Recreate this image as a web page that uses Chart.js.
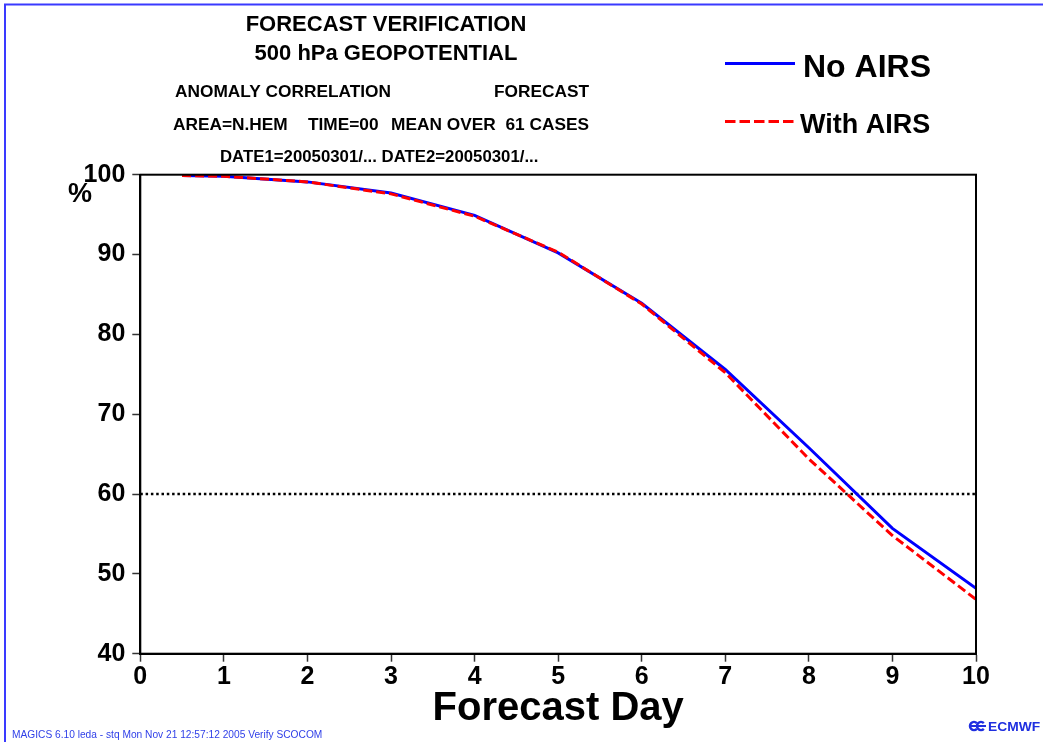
<!DOCTYPE html>
<html>
<head>
<meta charset="utf-8">
<title>Forecast verification – 500 hPa geopotential</title>
<script src="https://cdn.jsdelivr.net/npm/chart.js@4/dist/chart.umd.min.js"></script>
<style>
  html, body { margin: 0; padding: 0; background: #fff; }
  #wrap { width: 1043px; height: 742px; position: relative; }
</style>
</head>
<body>
<div id="wrap"><canvas id="c" width="1043" height="742"></canvas></div>
<script>
// Forecast day (lead time) for each verification point
const forecastDays = [0.5, 1, 2, 3, 4, 5, 6, 7, 8, 9, 10];
// Anomaly correlation (%) of the 500 hPa geopotential, N. hemisphere, mean over 61 cases
const noAirs   = [99.9, 99.8, 99.1, 97.7, 94.9, 90.2, 83.9, 75.6, 65.8, 55.7, 48.2];
const withAirs = [99.9, 99.8, 99.1, 97.6, 94.8, 90.3, 83.8, 75.2, 64.4, 54.8, 46.8];
// Usefulness threshold (%)
const threshold = 60;
const thresholdSpan = [0, 10];
// Axis ticks
const xTicks = [0, 1, 2, 3, 4, 5, 6, 7, 8, 9, 10];
const yTicks = [40, 50, 60, 70, 80, 90, 100];

const FONT = '"Liberation Sans", Arial, sans-serif';
const pts = (xs, ys) => xs.map((x, i) => ({ x, y: ys[i] }));

// Frame, headings, legend and footer drawn around the plot
const decorations = {
  id: 'decorations',
  beforeDraw(chart) {
    const ctx = chart.ctx;
    ctx.save();
    ctx.fillStyle = '#fff';
    ctx.fillRect(0, 0, chart.width, chart.height);
    ctx.strokeStyle = '#3a3aff';
    ctx.lineWidth = 2;
    ctx.beginPath();
    ctx.moveTo(5, chart.height);
    ctx.lineTo(5, 4.5);
    ctx.lineTo(chart.width, 4.5);
    ctx.stroke();
    ctx.restore();
  },
  afterDraw(chart) {
    const ctx = chart.ctx;
    const a = chart.chartArea;
    ctx.save();
    // closing box round the plot
    ctx.strokeStyle = '#000';
    ctx.lineWidth = 2;
    ctx.strokeRect(a.left, a.top, a.right - a.left, a.bottom - a.top);

    ctx.fillStyle = '#000';
    ctx.textBaseline = 'alphabetic';
    ctx.textAlign = 'center';
    ctx.font = 'bold 22px ' + FONT;
    ctx.fillText('FORECAST VERIFICATION', 386, 31);
    ctx.fillText('500 hPa GEOPOTENTIAL', 386, 60);

    ctx.textAlign = 'left';
    ctx.font = 'bold 17.3px ' + FONT;
    ctx.fillText('ANOMALY CORRELATION', 175, 96.5);
    ctx.fillText('FORECAST', 494, 96.5);
    ctx.fillText('AREA=N.HEM', 173, 129.5);
    ctx.fillText('TIME=00', 308, 129.5);
    ctx.fillText('MEAN OVER', 391, 129.5);
    ctx.textAlign = 'right';
    ctx.fillText('61 CASES', 589, 129.5);
    ctx.textAlign = 'left';
    ctx.font = 'bold 16.8px ' + FONT;
    ctx.fillText('DATE1=20050301/... DATE2=20050301/...', 220, 161.5);

    // legend
    ctx.lineWidth = 3;
    ctx.strokeStyle = '#0000ff';
    ctx.beginPath();
    ctx.moveTo(725, 63.5);
    ctx.lineTo(795, 63.5);
    ctx.stroke();
    ctx.strokeStyle = '#ff0000';
    ctx.setLineDash([10.5, 4]);
    ctx.beginPath();
    ctx.moveTo(725, 121.5);
    ctx.lineTo(795, 121.5);
    ctx.stroke();
    ctx.setLineDash([]);
    ctx.font = 'bold 32px ' + FONT;
    ctx.fillText('No AIRS', 803, 76.5);
    ctx.font = 'bold 27px ' + FONT;
    ctx.fillText('With AIRS', 800, 132.5);

    // axis unit
    ctx.font = 'bold 27px ' + FONT;
    ctx.fillText('%', 68, 202);

    // axis title
    ctx.textAlign = 'center';
    ctx.font = 'bold 40px ' + FONT;
    ctx.fillText('Forecast Day', (a.left + a.right) / 2, 720);

    // footer
    ctx.textAlign = 'left';
    ctx.fillStyle = '#2f3fe8';
    ctx.font = '10.2px ' + FONT;
    ctx.fillText('MAGICS 6.10 leda - stq Mon Nov 21 12:57:12 2005 Verify SCOCOM', 12, 738);

    // ECMWF mark
    ctx.fillStyle = '#1f2fe0';
    ctx.strokeStyle = '#1f2fe0';
    ctx.lineWidth = 2.5;
    ctx.beginPath();
    ctx.arc(974, 726, 4, Math.PI * 0.25, Math.PI * 1.75);
    ctx.stroke();
    ctx.beginPath();
    ctx.arc(981, 726, 4, Math.PI * 0.25, Math.PI * 1.75);
    ctx.stroke();
    ctx.fillRect(969, 725, 17, 2);
    ctx.font = 'bold 12px ' + FONT;
    ctx.save();
    ctx.translate(988, 730.5);
    ctx.scale(1.15, 1);
    ctx.fillText('ECMWF', 0, 0);
    ctx.restore();
    ctx.restore();
  }
};

new Chart(document.getElementById('c'), {
  type: 'line',
  data: {
    datasets: [
      {
        label: 'With AIRS',
        data: pts(forecastDays, withAirs),
        borderColor: '#ff0000',
        borderWidth: 3,
        borderDash: [9, 4],
        pointRadius: 0,
        tension: 0,
        order: 0
      },
      {
        label: 'No AIRS',
        data: pts(forecastDays, noAirs),
        borderColor: '#0000ff',
        borderWidth: 3,
        pointRadius: 0,
        tension: 0,
        order: 1
      },
      {
        label: '60%',
        data: pts(thresholdSpan, [threshold, threshold]),
        borderColor: '#000',
        borderWidth: 2.5,
        borderDash: [2.5, 2.8],
        pointRadius: 0,
        order: 2
      }
    ]
  },
  options: {
    responsive: false,
    animation: false,
    events: [],
    layout: { padding: { top: 174.7, right: 67, bottom: 0, left: 0 } },
    plugins: { legend: { display: false }, title: { display: false }, tooltip: { enabled: false } },
    scales: {
      x: {
        type: 'linear',
        min: xTicks[0],
        max: xTicks[xTicks.length - 1],
        afterFit(s) { s.height = 742 - 653.7; },
        afterBuildTicks(s) { s.ticks = xTicks.map(v => ({ value: v })); },
        grid: { drawOnChartArea: false, drawTicks: true, tickLength: 8, tickColor: '#333', tickWidth: 1.5 },
        border: { display: true, color: '#000', width: 2 },
        ticks: {
          color: '#000',
          padding: 0,
          maxRotation: 0,
          autoSkip: false,
          font: { family: FONT, size: 25, weight: 'bold' }
        }
      },
      y: {
        type: 'linear',
        min: yTicks[0],
        max: yTicks[yTicks.length - 1],
        afterFit(s) { s.width = 140.3; },
        afterBuildTicks(s) { s.ticks = yTicks.map(v => ({ value: v })); },
        grid: { drawOnChartArea: false, drawTicks: true, tickLength: 8, tickColor: '#333', tickWidth: 1.5 },
        border: { display: true, color: '#000', width: 2 },
        ticks: {
          color: '#000',
          padding: 7,
          autoSkip: false,
          font: { family: FONT, size: 25, weight: 'bold' }
        }
      }
    }
  },
  plugins: [decorations]
});
</script>
</body>
</html>
